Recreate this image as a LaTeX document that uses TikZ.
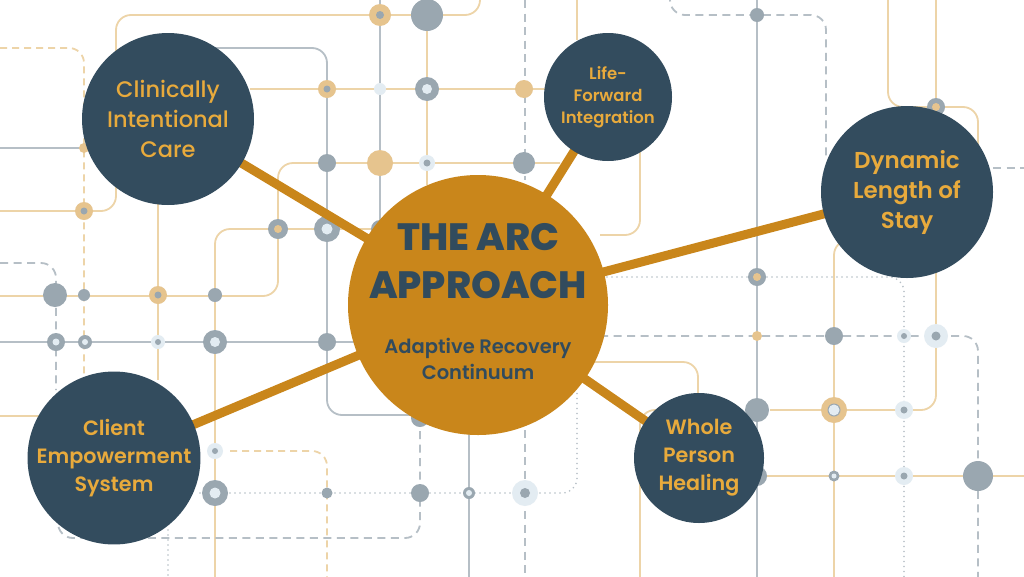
\documentclass[tikz,border=0pt]{standalone}
\usepackage{fontspec}
\setmainfont{Poppins}
\newfontfamily\pmed{Poppins Medium}
\newfontfamily\psemi{Poppins SemiBold}
\newfontfamily\pxbold{Poppins ExtraBold}
\definecolor{dark}{RGB}{51,76,94}
\definecolor{arcorange}{RGB}{201,134,27}
\definecolor{gold}{RGB}{232,170,60}
\definecolor{titleblue}{RGB}{49,75,93}
\definecolor{tanline}{RGB}{237,212,168}
\definecolor{greyline}{RGB}{182,191,198}
\definecolor{greydot}{RGB}{154,167,176}
\definecolor{tandot}{RGB}{230,196,142}
\definecolor{pale}{RGB}{227,236,242}
\pgfdeclarelayer{net}
\pgfdeclarelayer{links}
\pgfsetlayers{net,links,main}
\newcommand\plaindot[4]{\fill[#4] (#1,#2) circle[radius=#3pt];}
\newcommand\ringdot[6]{\fill[#5] (#1,#2) circle[radius=#3pt];\fill[#6] (#1,#2) circle[radius=#4pt];}
\tikzset{
  tl/.style={draw=tanline, line width=1.8pt, rounded corners=15pt},
  tdl/.style={tl, dash pattern=on 7pt off 5pt},
  gl/.style={draw=greyline, line width=1.8pt, rounded corners=15pt},
  gdl/.style={gl, dash pattern=on 8pt off 5.5pt},
  gdt/.style={gl, line width=1.8pt, line cap=round, dash pattern=on 0pt off 5pt},
  bub/.style={circle, fill=dark, inner sep=0pt, text=gold, align=center},
  hubstyle/.style={circle, fill=arcorange, inner sep=0pt},
  link/.style={draw=arcorange, line width=9pt},
  ttl/.style={text=titleblue, inner sep=0pt, font=\pxbold\fontsize{38}{44}\selectfont},
  sub/.style={text=titleblue, inner sep=0pt, anchor=base, font=\psemi\fontsize{19.5}{24}\selectfont}
}
\begin{document}
\begin{tikzpicture}[x=1pt,y=-1pt]
\path[use as bounding box] (0,0) rectangle (1024,576);
\begin{pgfonlayer}{net}
\fill[white] (0,0) rectangle (1024,576);
\begin{scope}
\clip (0,0) rectangle (1024,576);
% tan solid lines
\draw[tl] (0,211) -- (116,211) -- (116,15) -- (480,15) -- (480,-20);
\draw[tl] (0,296) -- (278,296) -- (278,163) -- (560,163);
\draw[tl] (380,229) -- (215,229) -- (215,590);
\draw[tl] (250,89) -- (548,89);
\draw[tl] (427,15) -- (427,185);
\draw[tl] (158,200) -- (158,380);
\draw[tl] (0,416) -- (40,416);
\draw[tl] (577,-5) -- (577,40);
\draw[tl] (640,140) -- (640,235) -- (600,235);
\draw[tl] (595,362) -- (698,362) -- (698,400);
\draw[tl] (640,590) -- (640,410) -- (700,410);
\draw[tl] (770,410) -- (936,410) -- (936,270);
\draw[tl] (834,590) -- (834,240) -- (870,240);
\draw[tl] (763,476) -- (1030,476);
\draw[tl] (888,-20) -- (888,107) -- (978,107) -- (978,150);
\draw[tl] (936,-5) -- (936,107);
% tan dashed
\draw[tdl] (0,48) -- (84,48) -- (84,380);
\draw[tdl] (230,451) -- (327,451) -- (327,590);
% grey solid
\draw[gl] (0,148) -- (85,148);
\draw[gl] (210,48) -- (327,48) -- (327,415) -- (430,415);
\draw[gl] (380,-5) -- (380,240);
\draw[gl] (0,342) -- (360,342);
\draw[gl] (469,430) -- (469,590);
\draw[gl] (757,-5) -- (757,590);
% grey dashed
\draw[gdl] (0,263) -- (56,263) -- (56,390);
\draw[gdl] (525,0) -- (525,180);
\draw[gdl] (670,-20) -- (670,15) -- (826,15) -- (826,160);
\draw[gdl] (993,168) -- (1030,168);
\draw[gdl] (600,336) -- (978,336) -- (978,590);
\draw[gdl] (525,430) -- (525,590);
\draw[gdl] (58,500) -- (58,538) -- (420,538) -- (420,420);
% grey dotted
\draw[gdt] (607,277) -- (904,277) -- (904,590);
\draw[gdt] (200,493) -- (577,493) -- (577,390);
\draw[gdt] (168,530) -- (168,590);
% dots
\ringdot{380}{15}{11}{4}{tandot}{greydot}
\plaindot{427}{15}{16}{greydot}
\ringdot{327}{89}{9}{3.5}{tandot}{greydot}
\plaindot{380}{89}{6}{pale}
\ringdot{427}{89}{12}{5}{greydot}{pale}
\plaindot{524}{89}{9}{tandot}
\plaindot{327}{163}{9}{greydot}
\plaindot{380}{163}{13}{tandot}
\ringdot{427}{163}{8}{3.5}{pale}{greydot}
\plaindot{524}{163}{11}{greydot}
\plaindot{84}{148}{5}{tandot}
\ringdot{84}{211}{9}{3.5}{tandot}{greydot}
\ringdot{278}{229}{10}{4}{greydot}{tandot}
\ringdot{327}{229}{13}{5.5}{greydot}{pale}
\plaindot{380}{229}{9}{greydot}
\plaindot{55}{295}{12}{greydot}
\plaindot{84}{295}{6}{greydot}
\ringdot{158}{295}{9}{3.5}{tandot}{greydot}
\plaindot{215}{295}{7}{greydot}
\ringdot{56}{342}{9}{3.5}{greydot}{pale}
\ringdot{85}{342}{7}{3}{greydot}{pale}
\ringdot{158}{342}{7}{3}{pale}{greydot}
\ringdot{215}{342}{12}{5}{greydot}{pale}
\plaindot{327}{342}{9}{greydot}
\ringdot{215}{451}{8}{3}{pale}{greydot}
\ringdot{215}{493}{13}{5.5}{greydot}{pale}
\plaindot{327}{493}{5.5}{greydot}
\plaindot{420}{418}{9}{greydot}
\plaindot{420}{493}{9}{greydot}
\ringdot{469}{493}{6}{3}{greydot}{pale}
\ringdot{525}{493}{13}{5}{pale}{greydot}
\plaindot{757}{15}{7}{greydot}
\ringdot{936}{107}{9}{4}{greydot}{tandot}
\ringdot{757}{277}{9}{4}{greydot}{tandot}
\plaindot{757}{336}{5}{tandot}
\plaindot{834}{336}{9}{greydot}
\ringdot{904}{336}{7}{3}{pale}{greydot}
\ringdot{936}{336}{12}{4.5}{pale}{greydot}
\plaindot{757}{410}{12}{greydot}
\ringdot{834}{410}{13}{6.5}{tandot}{greydot}
\plaindot{834}{410}{5.5}{pale}
\ringdot{904}{410}{9}{3.5}{pale}{greydot}
\plaindot{757}{476}{10}{greydot}
\ringdot{834}{476}{5.5}{2.5}{greydot}{pale}
\ringdot{904}{476}{9}{3.5}{pale}{greydot}
\plaindot{978}{476}{15}{greydot}
\end{scope}
\end{pgfonlayer}
% hub and topic circles
\node[hubstyle, minimum size=260pt] (arc) at (478,305) {};
\node[ttl] (arcA) at (478,237) {THE ARC};
\node[ttl] (arcB) at (478,285) {APPROACH};
\node[sub] (arcC) at (478,353) {Adaptive Recovery};
\node[sub] (arcD) at (478,379) {Continuum};
\node[bub, minimum size=172pt, font=\pmed\fontsize{22.5}{30}\selectfont] (cic) at (168,119) {Clinically\\Intentional\\Care};
\node[bub, minimum size=128pt, font=\psemi\fontsize{16.5}{22}\selectfont] (lfi) at (608,97) {Life-\\Forward\\Integration};
\node[bub, minimum size=172pt, font=\psemi\fontsize{23}{30}\selectfont] (dls) at (907,192) {Dynamic\\Length of\\Stay};
\node[bub, minimum size=172pt, font=\psemi\fontsize{20.7}{28}\selectfont] (ces) at (114,458) {Client\\Empowerment\\System};
\node[bub, minimum size=130pt, font=\psemi\fontsize{20.7}{28}\selectfont] (wph) at (699,458) {Whole\\Person\\Healing};
\begin{pgfonlayer}{links}
\draw[link] (arc.center) -- (cic.center);
\draw[link] (arc.center) -- (lfi.center);
\draw[link] (arc.center) -- (dls.center);
\draw[link] (arc.center) -- (ces.center);
\draw[link] (arc.center) -- (wph.center);
\end{pgfonlayer}
\end{tikzpicture}
\end{document}
